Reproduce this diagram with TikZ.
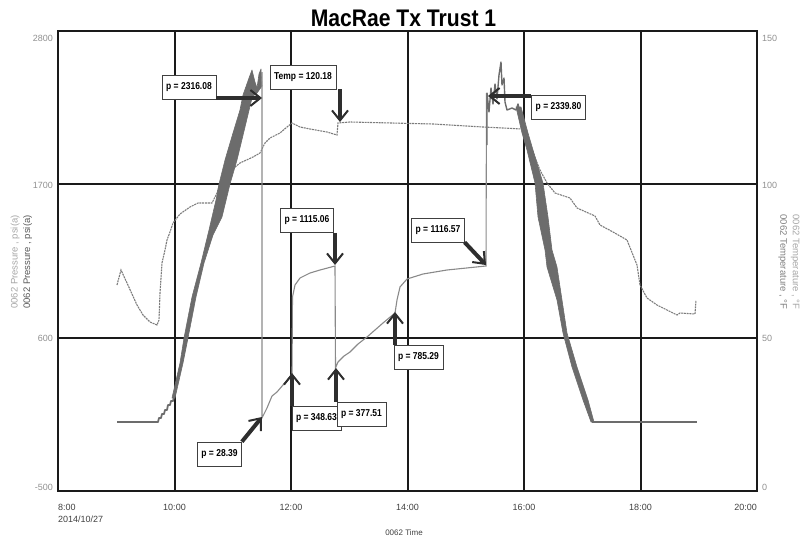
\documentclass[tikz,border=0pt]{standalone}
\usepackage{fontspec}
\setmainfont{Liberation Sans}
\usetikzlibrary{arrows.meta}
\definecolor{gridink}{HTML}{1A1A1A}
\definecolor{presink}{HTML}{6C6C6C}
\definecolor{jumpink}{HTML}{8A8A8A}
\definecolor{tempink}{HTML}{7C7C7C}
\definecolor{axisgray}{HTML}{909090}
\definecolor{timegray}{HTML}{404040}
\newcommand{\calltxt}[1]{\scalebox{0.85}[1]{#1}}

\begin{document}
\begin{tikzpicture}[x=1pt, y=-1pt,
  gridline/.style={draw=gridink, line width=2pt},
  frameline/.style={draw=gridink, line width=2.5pt},
  ticklabel/.style={text=axisgray, font=\fontsize{9}{10}\selectfont, inner sep=0pt},
  timelabel/.style={text=timegray, font=\fontsize{9}{10}\selectfont, inner sep=0pt},
  callout/.style={draw=black!75, fill=white, line width=0.6pt, inner xsep=4pt,
    inner ysep=0pt, minimum height=24pt, font=\fontsize{10}{12}\selectfont\bfseries},
  pointer/.style={draw=black!82, line width=4pt,
    -{Straight Barb[length=10pt, width=16pt, line width=2pt]}},
  pressure/.style={draw=presink, line width=1.8pt, line join=round},
  jump/.style={draw=jumpink, line width=1.1pt},
  temperature/.style={draw=tempink, line width=1.1pt, dash pattern=on 2pt off 0.8pt}]
  \useasboundingbox (0,0) rectangle (809,541);

  % title
  \node[font=\fontsize{24}{28}\selectfont\bfseries, anchor=base, inner sep=0pt] (title)
    at (403.5,26) {\scalebox{0.88}[1]{MacRae Tx Trust 1}};

  % grid and frame
  \foreach \gx in {174.5,291,407.5,524,640.5}
    \draw[gridline] (\gx,31) -- (\gx,491);
  \foreach \gy in {184,338}
    \draw[gridline] (58,\gy) -- (757,\gy);
  \draw[frameline] (58,31) rectangle (757,491);

  % axis numbers
  \foreach \val/\yy [count=\i] in {2800/38,1700/185,600/338,-500/487}
    \node[ticklabel, anchor=east] (pl\i) at (53,\yy) {\val};
  \foreach \val/\yy [count=\i] in {150/38,100/185,50/338,0/487}
    \node[ticklabel, anchor=west] (tl\i) at (762,\yy) {\val};
  \node[timelabel, anchor=west] (hr0) at (58,507) {8:00};
  \foreach \hr/\xx [count=\i] in {10:00/174.5,12:00/291,14:00/407.5,16:00/524,18:00/640.5}
    \node[timelabel] (hr\i) at (\xx,507) {\hr};
  \node[timelabel, anchor=east] (hr6) at (757,507) {20:00};
  \node[timelabel, anchor=west] (day) at (58,519) {2014/10/27};
  \node[timelabel, font=\fontsize{8}{9}\selectfont] (xname) at (404,533) {0062 Time};

  % axis names
  \node[rotate=90, align=center, inner sep=0pt, font=\fontsize{9.5}{12.5}\selectfont] (yname)
    at (21.5,262) {\textcolor{black!35}{0062 Pressure , psi(a)}\\\textcolor{black!65}{0062 Pressure , psi(a)}};
  \node[rotate=-90, align=center, inner sep=0pt, font=\fontsize{9.5}{12.5}\selectfont] (tname)
    at (789,262) {\textcolor{black!35}{0062 Temperature , °F}\\\textcolor{black!50}{0062 Temperature , °F}};

  % temperature
  \draw[temperature] plot coordinates {(117,285) (121,270) (127,283) (137,305) (143,315)
    (150,322) (157,325) (159,320) (160,293) (162,263) (165,250) (167,240) (170,232)
    (173,223) (180,214) (190,207) (198,203) (212,203) (217,193) (220,183) (228,173)
    (240,163) (253,157) (260,153) (265,143) (270,138) (280,133) (287,127) (292,123)
    (300,127) (310,129) (327,132) (337,135) (338,123) (350,122) (433,124) (483,127)
    (503,128) (522,129) (532,150) (540,170) (547,183) (555,193) (570,198) (577,208)
    (595,216) (600,225) (613,232) (627,240) (633,255) (637,265) (640,285) (647,298)
    (657,305) (667,310) (677,315) (680,313) (695,314) (696,300)};

  % pressure
  \draw[pressure] (117,422) -- (158,422) -- (159,418) -- (161,418) -- (162,414) -- (164,414)
    -- (165,410) -- (167,410) -- (168,405) -- (170,405) -- (171,401) -- (173,401) -- (174,397);
  \filldraw[presink, line width=0.6pt, line join=round] (172,398) -- (180,363) -- (184,338)
    -- (192,297) -- (201,263) -- (209,230) -- (216,200) -- (219,184) -- (225,160)
    -- (233,133) -- (240,110) -- (243,95) -- (249,78) -- (252,70) -- (255,82) -- (257,88)
    -- (259,74) -- (261,69) -- (262,86) -- (257,93) -- (253,96) -- (251,102) -- (245,127)
    -- (237,160) -- (230,184) -- (222,217) -- (213,235) -- (204,263) -- (196,297)
    -- (188,338) -- (183,363) -- (175,398) -- cycle;
  \draw[jump] (262,72) -- (262,418) -- (267,408) -- (272,396) -- (277,392) -- (283,385)
    -- (292,374) -- (292.5,297) -- (295,285) -- (300,278) -- (310,273) -- (320,270)
    -- (335,266) -- (335.5,368) -- (338,362) -- (344,356) -- (350,352) -- (358,344)
    -- (367,337) -- (383,323) -- (395,313) -- (397,300) -- (400,287) -- (407,279)
    -- (423,274) -- (447,270) -- (486,266) -- (486.5,93);
  \draw[pressure, line width=1.4pt] (487,145) -- (487,93) -- (489,112) -- (491,88)
    -- (493,104) -- (495,84) -- (497,99) -- (499,75) -- (501,62) -- (502,85) -- (504,78)
    -- (505,102) -- (507,110) -- (512,108) -- (516,110) -- (518,104) -- (520,112);
  \filldraw[presink, line width=0.6pt, line join=round] (516,107) -- (522,133) -- (527,150)
    -- (535,183) -- (538,217) -- (545,250) -- (547,267) -- (557,300) -- (563,333)
    -- (572,367) -- (583,400) -- (591,422) -- (594,422) -- (588,400) -- (577,367)
    -- (567,333) -- (562,300) -- (557,267) -- (552,250) -- (548,217) -- (543,183)
    -- (533,150) -- (528,133) -- (521,107) -- cycle;
  \draw[pressure] (592,422) -- (697,422);

  % marked values
  \coordinate (at2316) at (262,98);
  \coordinate (atTemp) at (340,122);
  \coordinate (at2339) at (488,96);
  \coordinate (at1115) at (335,265);
  \coordinate (at1116) at (486,265);
  \coordinate (at785) at (395,312);
  \coordinate (at377) at (336,368);
  \coordinate (at348) at (292,373);
  \coordinate (at28) at (262,417);

  \node[callout] (lbl2316) at (189,87) {\calltxt{p = 2316.08}};
  \node[callout] (lblTemp) at (303,77) {\calltxt{Temp = 120.18}};
  \node[callout] (lbl2339) at (558.5,107.5) {\calltxt{p = 2339.80}};
  \node[callout] (lbl1115) at (307,220.5) {\calltxt{p = 1115.06}};
  \node[callout] (lbl1116) at (438,230) {\calltxt{p = 1116.57}};
  \node[callout] (lbl785) at (418.5,357.5) {\calltxt{p = 785.29}};
  \node[callout] (lbl348) at (316.5,418.5) {\calltxt{p = 348.63}};
  \draw[pointer] (at348 |- lbl348.north) -- (at348);
  \node[callout] (lbl377) at (361.5,414) {\calltxt{p = 377.51}};
  \node[callout] (lbl28) at (219.5,454) {\calltxt{p = 28.39}};

  \draw[pointer] (at2316 -| lbl2316.east) -- (at2316);
  \draw[pointer] (atTemp |- lblTemp.south) -- (atTemp);
  \draw[pointer] (at2339 -| lbl2339.west) -- (at2339);
  \draw[pointer] (at1115 |- lbl1115.south) -- (at1115);
  \draw[pointer] (lbl1116.south east) -- (at1116);
  \draw[pointer] (at785 |- lbl785.north) -- (at785);
  \draw[pointer] (at377 |- lbl377.north) -- (at377);
  \draw[pointer] (lbl28.north east) -- (at28);
\end{tikzpicture}
\end{document}
